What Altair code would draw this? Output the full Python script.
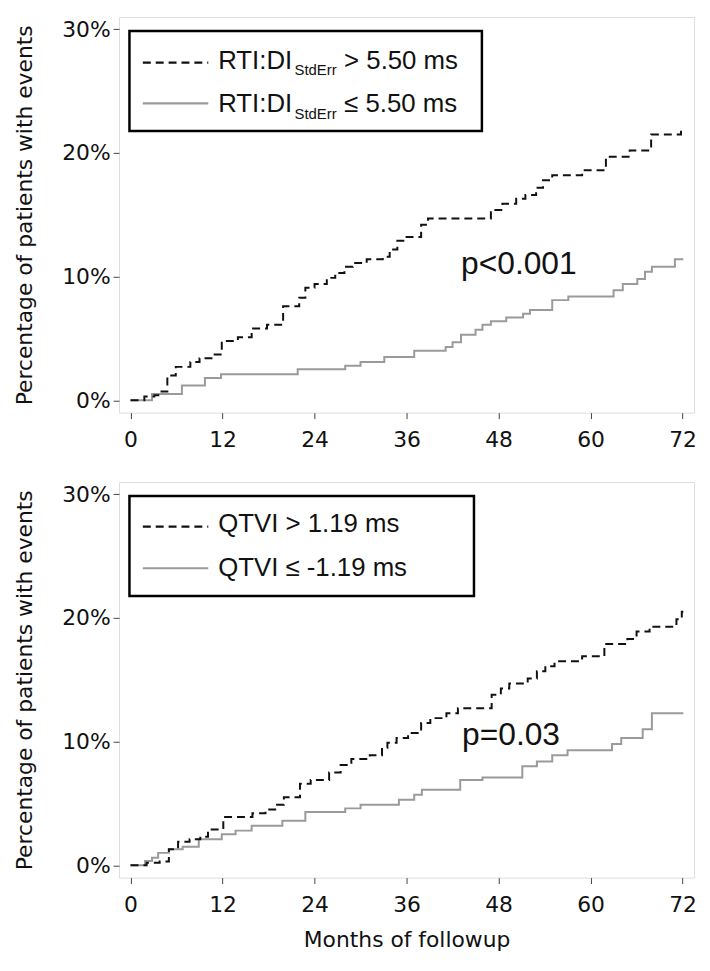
import altair as alt
import pandas as pd

# ---------------- data ----------------
# Top panel: RTI:DI StdErr
top_hi_months = [0, 1.8, 3.1, 3.8, 4.8, 5.9, 7.8, 9.0, 10.7, 11.9, 14.0, 15.8, 17.8, 19.9, 22.0,
                 22.8, 24.0, 25.6, 26.7, 27.9, 29.0, 30.8, 32.9, 33.8, 34.8, 35.8, 37.9, 38.8,
                 47.0, 48.5, 50.3, 51.5, 52.9, 53.8, 55.0, 58.9, 62.0, 65.1, 67.9, 71.8, 72.1]
top_hi_pct = [0, 0.3, 0.4, 0.7, 2.0, 2.7, 3.1, 3.4, 3.7, 4.8, 5.1, 5.8, 6.1, 7.6, 8.3,
              9.1, 9.4, 9.9, 10.3, 10.8, 11.1, 11.4, 11.6, 12.2, 12.9, 13.2, 14.2, 14.7,
              15.4, 15.9, 16.3, 16.6, 17.2, 17.8, 18.2, 18.6, 19.7, 20.2, 21.5, 22.0, 22.0]
top_lo_months = [0, 2.8, 6.7, 9.7, 11.8, 21.8, 28.0, 30.0, 33.1, 37.0, 41.1, 42.0, 43.1, 45.0,
                 45.9, 47.0, 49.0, 51.2, 52.1, 55.0, 57.1, 63.0, 64.2, 66.1, 67.1, 68.0, 71.0, 72.1]
top_lo_pct = [0, 0.5, 1.2, 1.8, 2.1, 2.5, 2.8, 3.1, 3.5, 4.0, 4.3, 4.7, 5.3, 5.7,
              6.1, 6.4, 6.7, 7.0, 7.3, 8.1, 8.4, 8.9, 9.4, 9.8, 10.4, 10.8, 11.4, 11.4]

# Bottom panel: QTVI
bot_hi_months = [0, 2.1, 3.8, 5.0, 6.2, 7.7, 9.1, 10.1, 12.1, 15.9, 17.6, 19.1, 20.0, 22.1,
                 23.5, 25.9, 27.4, 28.8, 31.2, 32.8, 33.5, 34.7, 36.2, 37.9, 39.1, 41.2, 42.7,
                 47.1, 48.3, 49.4, 51.8, 53.0, 54.1, 55.3, 58.9, 61.8, 64.8, 66.0, 67.7, 71.2,
                 71.9, 72.1]
bot_hi_pct = [0, 0.2, 0.3, 1.3, 1.9, 2.1, 2.3, 2.9, 3.9, 4.2, 4.5, 4.9, 5.5, 6.6,
              6.9, 7.5, 8.1, 8.6, 8.9, 9.5, 9.9, 10.3, 10.7, 11.5, 11.9, 12.3, 12.7,
              13.8, 14.3, 14.7, 15.1, 15.7, 16.1, 16.5, 16.9, 17.9, 18.3, 18.9, 19.3, 19.9,
              20.5, 20.5]
bot_lo_months = [0, 1.9, 2.8, 3.6, 5.0, 6.8, 8.9, 11.9, 13.7, 15.8, 19.8, 22.8, 28.0, 30.0,
                 35.0, 37.0, 38.0, 43.0, 45.9, 51.1, 53.0, 55.0, 57.0, 62.8, 64.0, 66.8, 68.0, 72.1]
bot_lo_pct = [0, 0.35, 0.6, 1.0, 1.3, 1.5, 2.1, 2.5, 2.8, 3.2, 3.6, 4.3, 4.6, 4.9,
              5.3, 5.7, 6.1, 6.9, 7.1, 8.0, 8.4, 8.9, 9.3, 9.8, 10.3, 11.0, 12.3, 12.3]

x_ticks = [0, 12, 24, 36, 48, 60, 72]
y_ticks = [0, 10, 20, 30]

top_p = "p<0.001"
bot_p = "p=0.03"

W, H = 580, 399
AX_FONT = "DejaVu Sans"
TXT_FONT = "Liberation Sans, Arial, Helvetica, sans-serif"

one = pd.DataFrame({"a": [0]})


def curves(hi_m, hi_p, lo_m, lo_p, show_title):
    df = pd.concat([
        pd.DataFrame({"month": lo_m, "pct": lo_p, "grp": "lo"}),
        pd.DataFrame({"month": hi_m, "pct": hi_p, "grp": "hi"}),
    ])
    x = alt.X("month:Q",
              scale=alt.Scale(domain=[-1.5, 73.5], nice=False, zero=False),
              axis=alt.Axis(values=x_ticks, title="Months of followup" if show_title else None,
                            grid=False, domain=False, tickSize=6, tickColor="#444",
                            labelPadding=11, labelFont=AX_FONT, labelFontSize=22,
                            labelColor="#111", titleFont=AX_FONT, titleFontSize=22,
                            titleFontWeight="normal", titleColor="#111", titlePadding=15))
    y = alt.Y("pct:Q",
              scale=alt.Scale(domain=[-1, 31], nice=False, zero=False),
              axis=alt.Axis(values=y_ticks, labelExpr="datum.value + '%'",
                            title="Percentage of patients with events",
                            grid=False, domain=False, tickSize=6, tickColor="#444",
                            labelPadding=3, labelFont=AX_FONT, labelFontSize=22,
                            labelColor="#111", titleFont=AX_FONT, titleFontSize=22,
                            titleFontWeight="normal", titleColor="#111", titlePadding=25,
                            titleLimit=1000))
    lo = alt.Chart(df).transform_filter("datum.grp == 'lo'").mark_line(
        interpolate="step-after", color="#9a9a9a", strokeWidth=2).encode(x=x, y=y)
    hi = alt.Chart(df).transform_filter("datum.grp == 'hi'").mark_line(
        interpolate="step-after", color="#111", strokeWidth=2,
        strokeDash=[8, 5]).encode(x=x, y=y)
    return lo, hi


def legend_box(x2):
    return alt.Chart(one).mark_rect(fill="white", stroke="black", strokeWidth=2.5).encode(
        x=alt.value(10.5), x2=alt.value(x2), y=alt.value(14), y2=alt.value(115))


def legend_lines(y1, y2):
    d = alt.Chart(one).mark_rule(color="#111", strokeWidth=2.2, strokeDash=[8, 5]).encode(
        x=alt.value(24), x2=alt.value(90), y=alt.value(y1))
    s = alt.Chart(one).mark_rule(color="#9a9a9a", strokeWidth=2.2).encode(
        x=alt.value(24), x2=alt.value(90), y=alt.value(y2))
    return d, s


def txt(s, x, y, size, color="#111"):
    return alt.Chart(one).mark_text(align="left", baseline="alphabetic", font=TXT_FONT,
                                    fontSize=size, color=color).encode(
        x=alt.value(x), y=alt.value(y), text=alt.value(s))


# ---------------- top panel ----------------
lo1, hi1 = curves(top_hi_months, top_hi_pct, top_lo_months, top_lo_pct, False)
d1, s1 = legend_lines(46, 87)
top = alt.layer(
    lo1, hi1,
    legend_box(366), d1, s1,
    txt("RTI:DI", 100, 52, 26), txt("StdErr", 177, 58.5, 15), txt("> 5.50 ms", 227, 52, 26),
    txt("RTI:DI", 100, 96, 26), txt("StdErr", 177, 102.5, 15), txt("\u2264 5.50 ms", 227, 96, 26),
    txt(top_p, 345, 259, 32),
).properties(width=W, height=H)

# ---------------- bottom panel ----------------
lo2, hi2 = curves(bot_hi_months, bot_hi_pct, bot_lo_months, bot_lo_pct, True)
d2, s2 = legend_lines(45, 87)
bot = alt.layer(
    lo2, hi2,
    legend_box(358), d2, s2,
    txt("QTVI > 1.19 ms", 100, 50, 26),
    txt("QTVI \u2264 -1.19 ms", 100, 95, 26),
    txt(bot_p, 346, 265, 32),
).properties(width=W, height=H)

chart = alt.vconcat(top, bot, spacing=30).configure_view(
    stroke="#444", strokeWidth=1.6
).configure(background="white").properties(
    padding={"left": 5, "right": 5, "top": 4, "bottom": 5})

chart.save("out.html", embed_options={"renderer": "svg", "actions": False})
